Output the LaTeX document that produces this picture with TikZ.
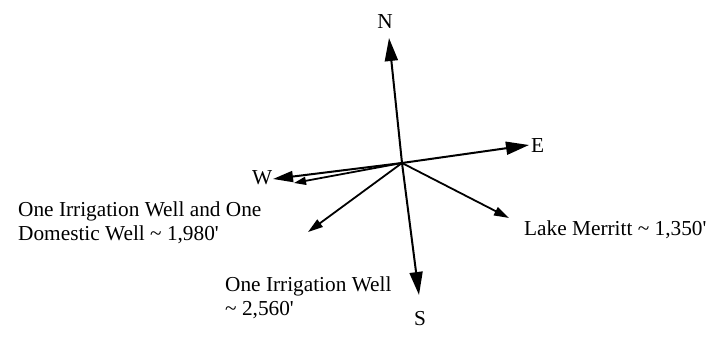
\documentclass[tikz,border=0pt]{standalone}
\usepackage{fontspec}
\setmainfont{Liberation Serif}[Ligatures=TeXOff]
\usetikzlibrary{arrows.meta}
\begin{document}
\begin{tikzpicture}[x=1pt,y=-1pt,
  lbl/.style={inner sep=0pt,font=\fontsize{21.3}{24}\selectfont},
  bigarrow/.style={line width=2pt,-{Triangle[length=23pt,width=13pt]}},
  smallarrow/.style={line width=1.8pt,-{Triangle[length=15pt,width=9pt]}}]
\useasboundingbox (0,0) rectangle (717,339);
\coordinate (O) at (402,163);
\coordinate (tN) at (389,38);
\coordinate (tS) at (419,295);
\coordinate (tE) at (529,145);
\coordinate (tW) at (273,179);
\coordinate (tW2) at (294,183);
\coordinate (tSW) at (308,232);
\coordinate (tSE) at (509,218);
\draw[bigarrow] (O) -- (tN);
\draw[bigarrow] (O) -- (tS);
\draw[bigarrow] (O) -- (tE);
\draw[line width=2pt,-{Triangle[length=20pt,width=11pt]}] (O) -- (tW);
\draw[line width=1.8pt,-{Triangle[length=12pt,width=8pt]}] (O) -- (tW2);
\draw[smallarrow] (O) -- (tSW);
\draw[smallarrow] (O) -- (tSE);
\node[lbl,anchor=base] (N) at (385,29) {N};
\node[lbl,anchor=base] (S) at (420,325) {S};
\node[lbl,anchor=base west] (E) at (531,153) {E};
\node[lbl,anchor=base west] (W) at (252,185) {W};
\node[lbl,anchor=base west,align=left] (L1) at (18,240) {One Irrigation Well and One\\Domestic Well \textasciitilde{} 1,980'};
\node[lbl,anchor=base west,align=left] (L2) at (225,315) {One Irrigation Well\\\textasciitilde{} 2,560'};
\node[lbl,anchor=base west] (L3) at (524,235.7) {Lake Merritt \textasciitilde{} 1,350'};
\end{tikzpicture}
\end{document}
